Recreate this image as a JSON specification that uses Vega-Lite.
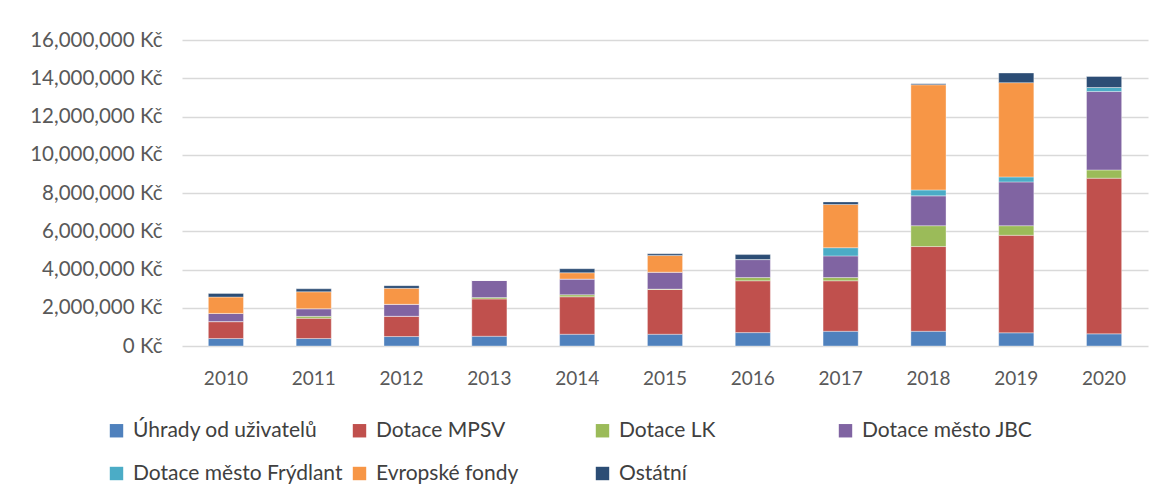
{
  "$schema": "https://vega.github.io/schema/vega-lite/v6.json",
  "width": 966,
  "height": 306,
  "autosize": {"type": "none"},
  "padding": {"left": 182, "top": 40, "right": 20, "bottom": 157},
  "background": "white",
  "config": {
    "font": "Lato",
    "view": {"stroke": null}
  },
  "data": {
    "values": [
      {"year": "2010", "Úhrady od uživatelů": 390000, "Dotace MPSV": 885000, "Dotace LK": 0, "Dotace město JBC": 430000, "Dotace město Frýdlant": 0, "Evropské fondy": 855000, "Ostátní": 190000},
      {"year": "2011", "Úhrady od uživatelů": 390000, "Dotace MPSV": 1060000, "Dotace LK": 100000, "Dotace město JBC": 400000, "Dotace město Frýdlant": 0, "Evropské fondy": 885000, "Ostátní": 155000},
      {"year": "2012", "Úhrady od uživatelů": 495000, "Dotace MPSV": 1060000, "Dotace LK": 0, "Dotace město JBC": 625000, "Dotace město Frýdlant": 0, "Evropské fondy": 835000, "Ostátní": 140000},
      {"year": "2013", "Úhrady od uživatelů": 510000, "Dotace MPSV": 1950000, "Dotace LK": 70000, "Dotace město JBC": 900000, "Dotace město Frýdlant": 0, "Evropské fondy": 0, "Ostátní": 0},
      {"year": "2014", "Úhrady od uživatelů": 615000, "Dotace MPSV": 1960000, "Dotace LK": 105000, "Dotace město JBC": 820000, "Dotace město Frýdlant": 0, "Evropské fondy": 330000, "Ostátní": 210000},
      {"year": "2015", "Úhrady od uživatelů": 615000, "Dotace MPSV": 2340000, "Dotace LK": 20000, "Dotace město JBC": 885000, "Dotace město Frýdlant": 0, "Evropské fondy": 870000, "Ostátní": 90000},
      {"year": "2016", "Úhrady od uživatelů": 700000, "Dotace MPSV": 2710000, "Dotace LK": 170000, "Dotace město JBC": 940000, "Dotace město Frýdlant": 0, "Evropské fondy": 0, "Ostátní": 260000},
      {"year": "2017", "Úhrady od uživatelů": 770000, "Dotace MPSV": 2640000, "Dotace LK": 170000, "Dotace město JBC": 1130000, "Dotace město Frýdlant": 430000, "Evropské fondy": 2260000, "Ostátní": 135000},
      {"year": "2018", "Úhrady od uživatelů": 770000, "Dotace MPSV": 4430000, "Dotace LK": 1090000, "Dotace město JBC": 1560000, "Dotace město Frýdlant": 310000, "Evropské fondy": 5500000, "Ostátní": 50000},
      {"year": "2019", "Úhrady od uživatelů": 690000, "Dotace MPSV": 5100000, "Dotace LK": 500000, "Dotace město JBC": 2290000, "Dotace město Frýdlant": 260000, "Evropské fondy": 4930000, "Ostátní": 505000},
      {"year": "2020", "Úhrady od uživatelů": 635000, "Dotace MPSV": 8140000, "Dotace LK": 430000, "Dotace město JBC": 4100000, "Dotace město Frýdlant": 210000, "Evropské fondy": 0, "Ostátní": 575000}
    ]
  },
  "transform": [
    {"fold": ["Úhrady od uživatelů", "Dotace MPSV", "Dotace LK", "Dotace město JBC", "Dotace město Frýdlant", "Evropské fondy", "Ostátní"], "as": ["s", "v"]},
    {"calculate": "indexof(['Úhrady od uživatelů', 'Dotace MPSV', 'Dotace LK', 'Dotace město JBC', 'Dotace město Frýdlant', 'Evropské fondy', 'Ostátní'], datum.s)", "as": "k"}
  ],
  "mark": {"type": "bar", "stroke": "white", "strokeWidth": 0.6, "strokeOpacity": 0.6},
  "encoding": {
    "x": {
      "field": "year", "type": "ordinal",
      "scale": {"paddingInner": 0.6, "paddingOuter": 0.3},
      "axis": {"title": null, "labelAngle": 0, "ticks": false, "domain": false, "labelFontSize": 19, "labelColor": "#595959", "labelPadding": 23}
    },
    "y": {
      "field": "v", "type": "quantitative", "stack": "zero",
      "scale": {"domain": [0, 16000000]},
      "axis": {"title": null, "values": [0, 2000000, 4000000, 6000000, 8000000, 10000000, 12000000, 14000000, 16000000], "labelExpr": "format(datum.value, ',') + ' Kč'", "labelOverlap": false, "ticks": false, "domain": false, "gridColor": "#d9d9d9", "gridWidth": 1.5, "labelFontSize": 20.5, "labelColor": "#595959", "labelPadding": 20}
    },
    "color": {
      "field": "s", "type": "nominal",
      "scale": {
        "domain": ["Úhrady od uživatelů", "Dotace MPSV", "Dotace LK", "Dotace město JBC", "Dotace město Frýdlant", "Evropské fondy", "Ostátní"],
        "range": ["#4F81BD", "#C0504D", "#9BBB59", "#8064A2", "#4BACC6", "#F79646", "#2C4D75"]
      },
      "legend": {
        "title": null, "orient": "none", "direction": "horizontal", "legendX": -76, "legendY": 380,
        "columns": 4, "gridAlign": "all", "columnPadding": 6, "rowPadding": 21,
        "symbolType": "square", "symbolSize": 180, "symbolStrokeWidth": 0,
        "labelFontSize": 21, "labelColor": "#404040", "labelLimit": 400, "labelOffset": 6
      }
    },
    "order": {"field": "k", "type": "quantitative"}
  }
}
